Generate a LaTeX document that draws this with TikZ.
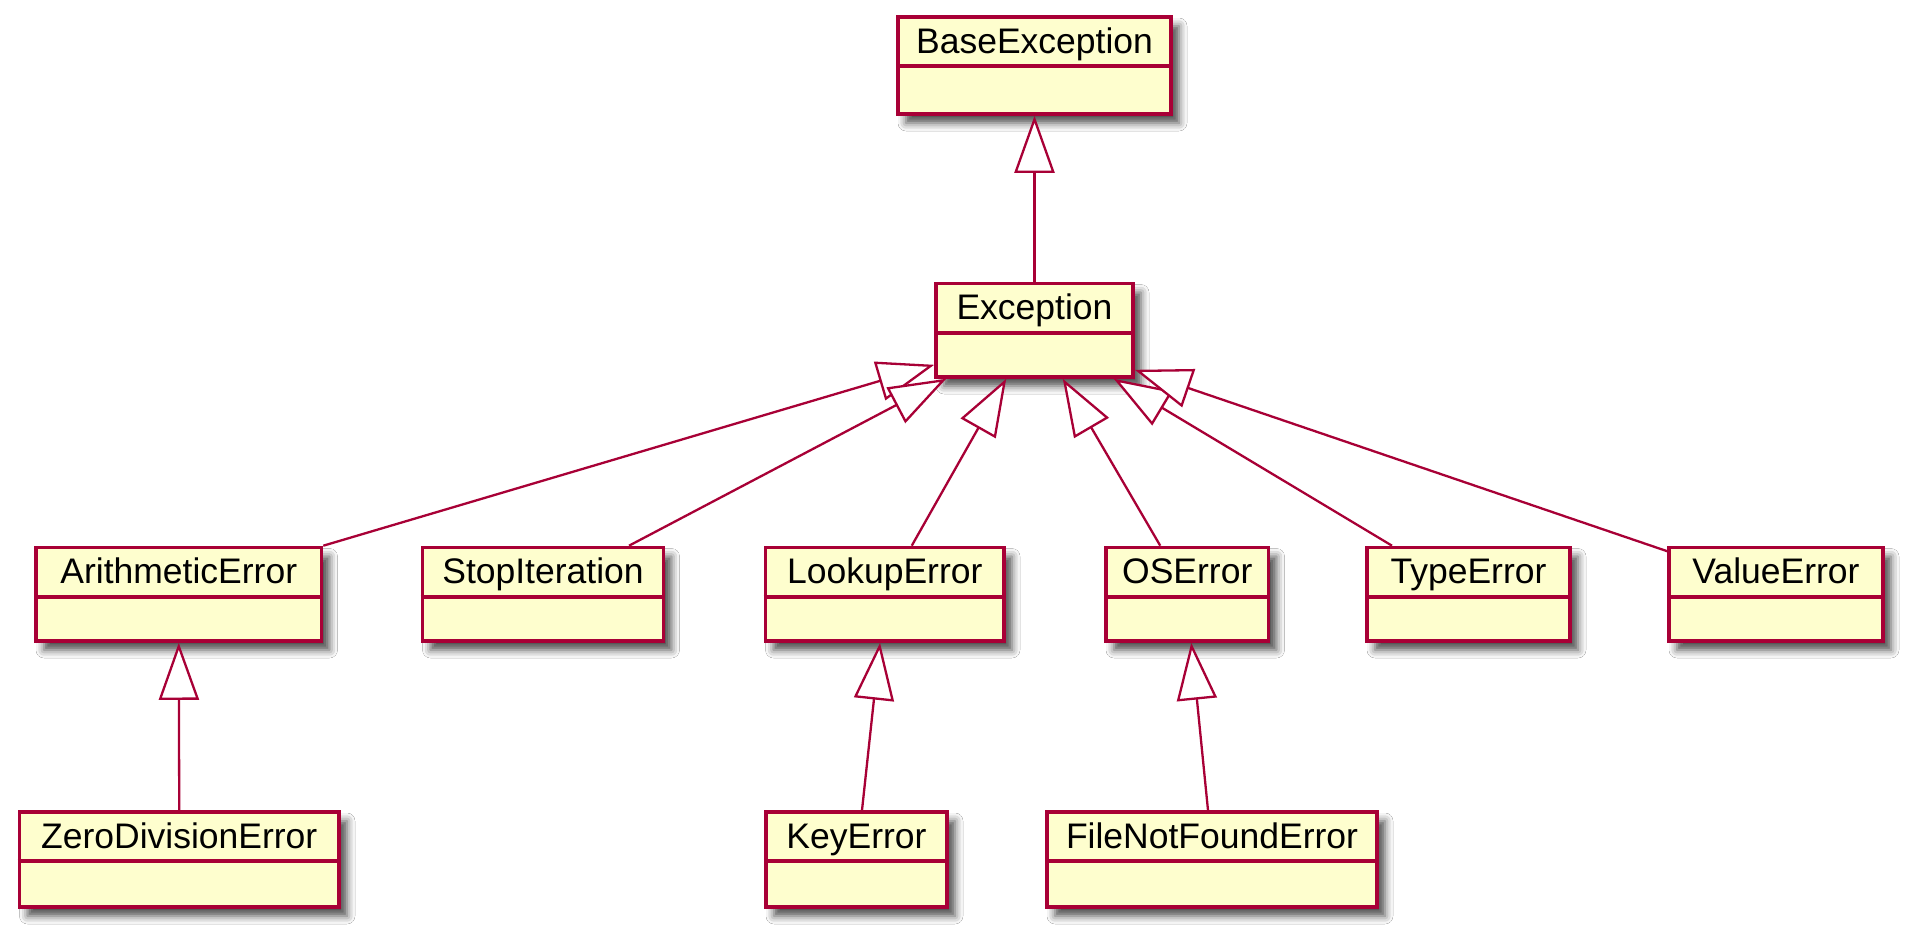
\documentclass[tikz,border=0pt]{standalone}
\usepackage{fontspec}
\setmainfont{Liberation Sans}
\usetikzlibrary{arrows.meta,shadows.blur}
\definecolor{umlred}{HTML}{A80036}
\definecolor{umlfill}{HTML}{FEFECE}
\tikzset{
  clsbox/.style={draw=umlred, fill=umlfill, line width=3.6pt, inner sep=0pt, rectangle,
    blur shadow={shadow xshift=8pt, shadow yshift=-9pt, shadow blur radius=8pt, shadow opacity=70}},
  sepline/.style={draw=umlred, line width=3.6pt},
  clstitle/.style={anchor=base, inner sep=0pt, font=\fontsize{35.5}{42}\selectfont, text=black},
  inh/.style={draw=umlred, line width=2.3pt, miter limit=20,
    -{Triangle[length=57pt,width=40pt,fill=white]}}
}
\newcommand\umlcls[6]{%
  \node[clsbox, minimum width=#4pt, minimum height=#5pt] (#1) at (#2,#3) {};
  \draw[sepline] ([yshift=-51pt]#1.north west) -- ([yshift=-51pt]#1.north east);
  \node[clstitle] (#1-t) at ([yshift=-38pt]#1.north) {#6};
}
\begin{document}
\begin{tikzpicture}[x=1pt,y=-1pt]
\fill[white] (0,0) rectangle (1920,946);
\useasboundingbox (0,0) rectangle (1920,946);

\umlcls{base}{1034.5}{65.5}{273}{97}{BaseException}
\umlcls{exc}{1034.5}{330.25}{197}{93.5}{Exception}

\umlcls{ari}{178.75}{594.25}{285.5}{93.5}{ArithmeticError}
\umlcls{stop}{543}{594.25}{241}{93.5}{StopIteration}
\umlcls{look}{884.75}{594.25}{238.5}{93.5}{LookupError}
\umlcls{os}{1187.25}{594.25}{162.5}{93.5}{OSError}
\umlcls{type}{1468.5}{594.25}{203}{93.5}{TypeError}
\umlcls{value}{1776}{594.25}{214}{93.5}{ValueError}

\umlcls{zero}{179.25}{859.5}{319.5}{95}{ZeroDivisionError}
\umlcls{key}{856.5}{859.5}{181}{95}{KeyError}
\umlcls{fnf}{1212}{859.5}{330}{95}{FileNotFoundError}

\draw[inh] (exc.north) -- (base.south);
\draw[inh] (ari.north east) -- ([yshift=14pt]exc.south west);
\draw[inh] ([xshift=86pt]stop.north) -- ([xshift=12pt]exc.south west);
\draw[inh] ([xshift=27pt]look.north) -- ([xshift=72pt]exc.south west);
\draw[inh] ([xshift=-27pt]os.north) -- ([xshift=-72pt]exc.south east);
\draw[inh] ([xshift=-76.5pt]type.north) -- ([xshift=-21pt]exc.south east);
\draw[inh] ([yshift=-5.5pt]value.north west) -- ([yshift=9pt]exc.south east);
\draw[inh] (zero.north) -- (ari.south);
\draw[inh] ([xshift=5.5pt]key.north) -- ([xshift=-4.7pt]look.south);
\draw[inh] ([xshift=-4pt]fnf.north) -- ([xshift=4pt]os.south);
\end{tikzpicture}
\end{document}
